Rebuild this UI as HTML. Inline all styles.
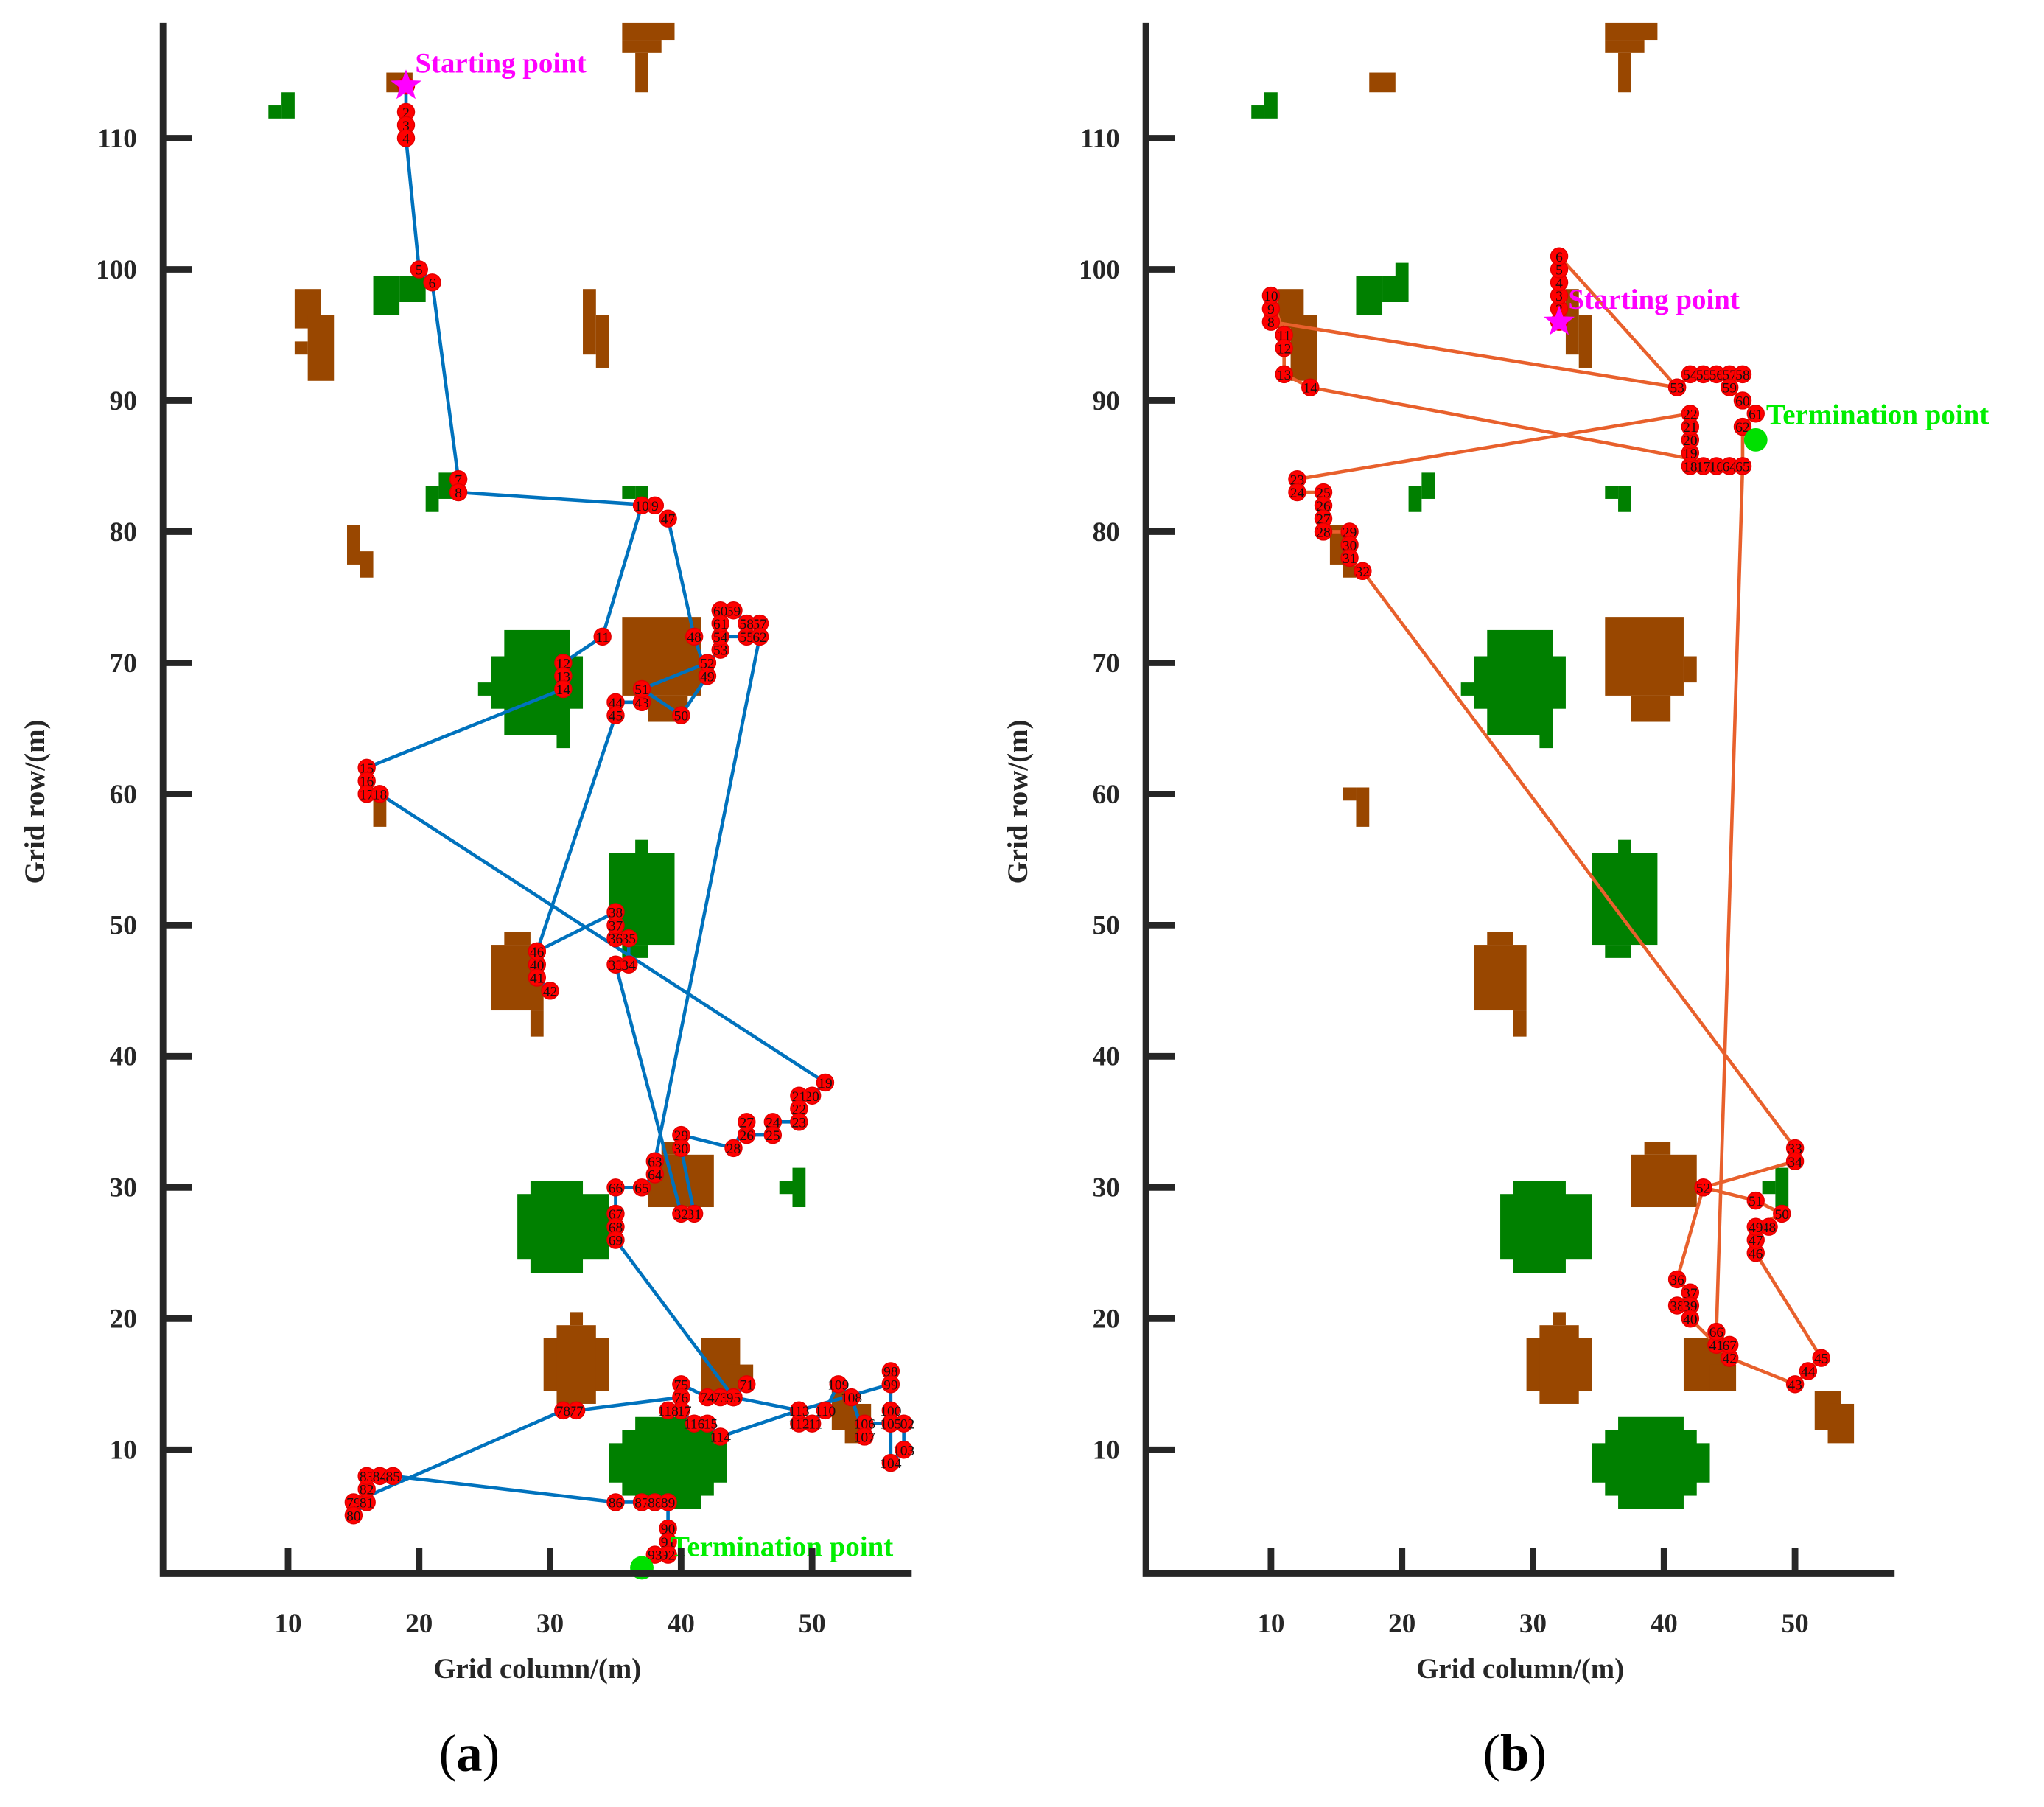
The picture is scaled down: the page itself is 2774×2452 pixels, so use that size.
<!DOCTYPE html>
<html><head><meta charset="utf-8"><style>
html,body{margin:0;padding:0;background:#fff;}
svg{display:block;}
text{font-family:"Liberation Serif",serif;}
</style></head><body>
<svg id="fig" xmlns="http://www.w3.org/2000/svg" width="2774" height="2452" viewBox="0 0 1568 1386">
<g id="panelA"></g>
<g id="panelB"></g>
<text x="360" y="1358" text-anchor="middle" font-size="40">(<tspan font-weight="bold">a</tspan>)</text>
<text x="1162" y="1358" text-anchor="middle" font-size="40">(<tspan font-weight="bold">b</tspan>)</text>
</svg>
<script>
const NS='http://www.w3.org/2000/svg';
const xTicks=[10,20,30,40,50];
const yTicks=[10,20,30,40,50,60,70,80,90,100,110];
const brownRects=[[35.5,39.5,117.5,118.8],[35.5,38.5,116.5,117.5],[36.5,37.5,113.5,116.5],[17.5,19.5,113.5,115],
[10.5,12.5,95.5,98.5],[11.5,13.5,91.5,96.5],[10.5,11.5,93.5,94.5],[32.5,33.5,93.5,98.5],[33.5,34.5,92.5,96.5],
[14.5,15.5,77.5,80.5],[15.5,16.5,76.5,78.5],[35.5,41.5,67.5,73.5],[37.5,40.5,65.5,67.5],[41.5,42.5,68.5,70.5],
[16.5,17.5,57.5,60.5],[15.5,16.5,59.5,60.5],[25.5,29.5,43.5,48.5],[26.5,28.5,48.5,49.5],[28.5,29.5,41.5,43.5],
[37.5,42.5,28.5,32.5],[38.5,40.5,32.5,33.5],[29.5,34.5,14.5,18.5],[30.5,33.5,13.5,19.5],[31.5,32.5,19.5,20.5],
[41.5,44.5,14.5,18.5],[43.5,45.5,14.5,16.5],[51.5,53.5,11.5,14.5],[52.5,54.5,10.5,13.5]];
const greenRects=[[9.5,10.5,111.5,113.5],[8.5,9.5,111.5,112.5],[16.5,18.5,96.5,99.5],[18.5,20.5,97.5,99.5],[19.5,20.5,99.5,100.5],
[21.5,22.5,82.5,84.5],[20.5,21.5,81.5,83.5],[36.5,37.5,81.5,83.5],[35.5,36.5,82.5,83.5],
[26.5,31.5,64.5,72.5],[25.5,32.5,66.5,70.5],[24.5,25.5,67.5,68.5],[30.5,31.5,63.5,64.5],
[34.5,39.5,48.5,55.5],[35.5,37.5,47.5,48.5],[36.5,37.5,55.5,56.5],
[48.5,49.5,28.5,31.5],[47.5,48.5,29.5,30.5],[27.5,34.5,24.5,29.5],[28.5,32.5,23.5,30.5],
[35.5,42.5,6.5,11.5],[36.5,41.5,5.5,12.5],[34.5,43.5,7.5,10.5]];
const pathA1=[[19,114],[19,112],[19,111],[19,110],[20,100],[21,99],[23,84],[23,83],[38,82],[37,82],[34,72],[31,70],[31,69],[31,68],[16,62],[16,61],[16,60],[17,60],[51,38],[50,37],[49,37],[49,36],[49,35],[47,35],[47,34],[45,34],[45,35],[44,33],[40,34],[40,33],[41,28],[40,28],[35,47],[36,47],[36,49],[35,49],[35,50],[35,51],[29,48],[29,47],[29,46],[30,45]];
const pathA2=[[37,67],[35,67],[35,66],[29,48]];
const pathA3=[[39,81],[41,72],[42,69],[40,66],[37,68],[42,70],[43,71],[43,72],[45,72],[46,72],[46,73],[45,73],[44,74],[43,74],[43,73]];
const pathA4=[[46,72],[38,32],[38,31],[37,30],[35,30],[35,28],[35,27],[35,26],[44,14],[45,15],[44,14],[43,14],[42,14],[40,15],[40,14],[32,13],[31,13],[15,6],[15,5],[16,6],[16,7],[16,8],[17,8],[18,8],[35,6],[37,6],[38,6],[39,6],[39,4],[39,3],[39,2],[38,2],[37,1]];
const pathA5=[[44,14],[49,13],[56,15],[56,16],[56,15],[56,13],[56,12],[57,12],[57,10],[56,9],[56,12],[54,12],[54,11],[53,14],[52,15],[51,13],[50,12],[49,12],[49,13],[43,11],[42,12],[41,12],[40,13],[39,13]];
const pathB1=[[32,96],[32,97],[32,98],[32,99],[32,100],[32,101],[41,91],[10,96],[10,97],[10,98],[11,95],[11,94],[11,92],[13,91],[45,85],[44,85],[43,85],[42,85],[42,86],[42,87],[42,88],[42,89],[12,84],[12,83],[14,83],[14,82],[14,81],[14,80],[16,80],[16,79],[16,78],[17,77],[50,33],[50,32],[43,30],[41,23],[42,22],[41,21],[42,21],[42,20],[44,18],[45,17],[50,15],[51,16],[52,17],[47,25],[47,26],[48,27],[47,27],[49,28],[47,29],[43,30]];
const pathB2=[[41,91],[42,92],[43,92],[44,92],[45,92],[46,92],[45,91],[46,90],[47,89],[46,88],[46,85],[45,85]];
const pathB3=[[46,85],[44,19],[45,18]];
const startA=[19,114], endA=[37,1], startB=[32,96], endB=[47,87];

function el(p,tag,attrs){const e=document.createElementNS(NS,tag);for(const k in attrs)e.setAttribute(k,attrs[k]);p.appendChild(e);return e;}
function drawPanel(g,ox,paths,color,start,end,startLbl,endLbl){
  const X=c=>ox+10.05*c, Y=r=>1212.6-10.06*r;
  const axL=X(0.45), axB=Y(0.55), axT=Y(118.8), axR=X(57.6);
  brownRects.forEach(b=>{const e=el(g,'rect',{x:X(b[0]),y:Y(b[3]),width:X(b[1])-X(b[0]),height:Y(b[2])-Y(b[3]),fill:'#994700'});
    
    });
  greenRects.forEach(b=>{const e=el(g,'rect',{x:X(b[0]),y:Y(b[3]),width:X(b[1])-X(b[0]),height:Y(b[2])-Y(b[3]),fill:'#008000'});
    
    });
  paths.forEach(p=>{const e=el(g,'polyline',{points:p.map(q=>X(q[0])+','+Y(q[1])).join(' '),fill:'none',stroke:color,'stroke-width':2.6});
    
    });
  let n=1;
  paths.forEach(p=>p.forEach(q=>{
    const c=el(g,'circle',{cx:X(q[0]),cy:Y(q[1]),r:6.5,fill:'#ff0000',stroke:'#e00000','stroke-width':0.8});
    
    
    const t=el(g,'text',{x:X(q[0]),y:Y(q[1])+4,'text-anchor':'middle','font-size':11,fill:'#111'});
    t.textContent=String(n++);
    
    
  }));
  const sx=X(start[0]), sy=Y(start[1]); let pts=[];
  for(let i=0;i<10;i++){const a=-Math.PI/2+i*Math.PI/5, rr=i%2?4.5:11; pts.push((sx+rr*Math.cos(a))+','+(sy+rr*Math.sin(a)));}
  const st=el(g,'polygon',{points:pts.join(' '),fill:'#ff00ff',stroke:'#ff00ff'});
  
  
  const sl=el(g,'text',{x:sx+7,y:sy-10,'font-size':22,'font-weight':'bold',fill:'#ff00ff'}); sl.textContent='Starting point';
  
  
  const ex=X(end[0]), ey=Y(end[1]);
  const ec=el(g,'circle',{cx:ex,cy:ey,r:9,fill:'#00e000'});
  
  
  const elb=el(g,'text',{x:ex+endLbl[0],y:ey+endLbl[1],'font-size':22,'font-weight':'bold',fill:'#00ee00'}); elb.textContent='Termination point';
  
  
  const ax=el(g,'path',{d:`M${axL},${axT} V${axB} H${axR}`,fill:'none',stroke:'#262626','stroke-width':5});
  
  
  xTicks.forEach(v=>{const t=el(g,'line',{x1:X(v),x2:X(v),y1:axB,y2:axB-20,stroke:'#262626','stroke-width':5});
    
    
    const l=el(g,'text',{x:X(v),y:axB+45,'text-anchor':'middle','font-size':21,'font-weight':'bold',fill:'#262626'}); l.textContent=v;
    
    });
  yTicks.forEach(v=>{const t=el(g,'line',{x1:axL,x2:axL+22,y1:Y(v),y2:Y(v),stroke:'#262626','stroke-width':5});
    
    
    const l=el(g,'text',{x:axL-20,y:Y(v)+7,'text-anchor':'end','font-size':21,'font-weight':'bold',fill:'#262626'}); l.textContent=v;
    
    });
  const xt=el(g,'text',{x:(axL+axR)/2,y:1287,'text-anchor':'middle','font-size':22,'font-weight':'bold',fill:'#262626'}); xt.textContent='Grid column/(m)';
  
  
  const yt=el(g,'text',{x:0,y:0,transform:`translate(${axL-91},615) rotate(-90)`,'text-anchor':'middle','font-size':22,'font-weight':'bold',fill:'#262626'}); yt.textContent='Grid row/(m)';
  
  
}
drawPanel(document.getElementById('panelA'),120.5,[pathA1,pathA2,pathA3,pathA4,pathA5],'#0072bd',startA,endA,'Starting point',[22,-9]);
drawPanel(document.getElementById('panelB'),874.5,[pathB1,pathB2,pathB3],'#e8602c',startB,endB,'Starting point',[8,-12]);
</script>
</body></html>
